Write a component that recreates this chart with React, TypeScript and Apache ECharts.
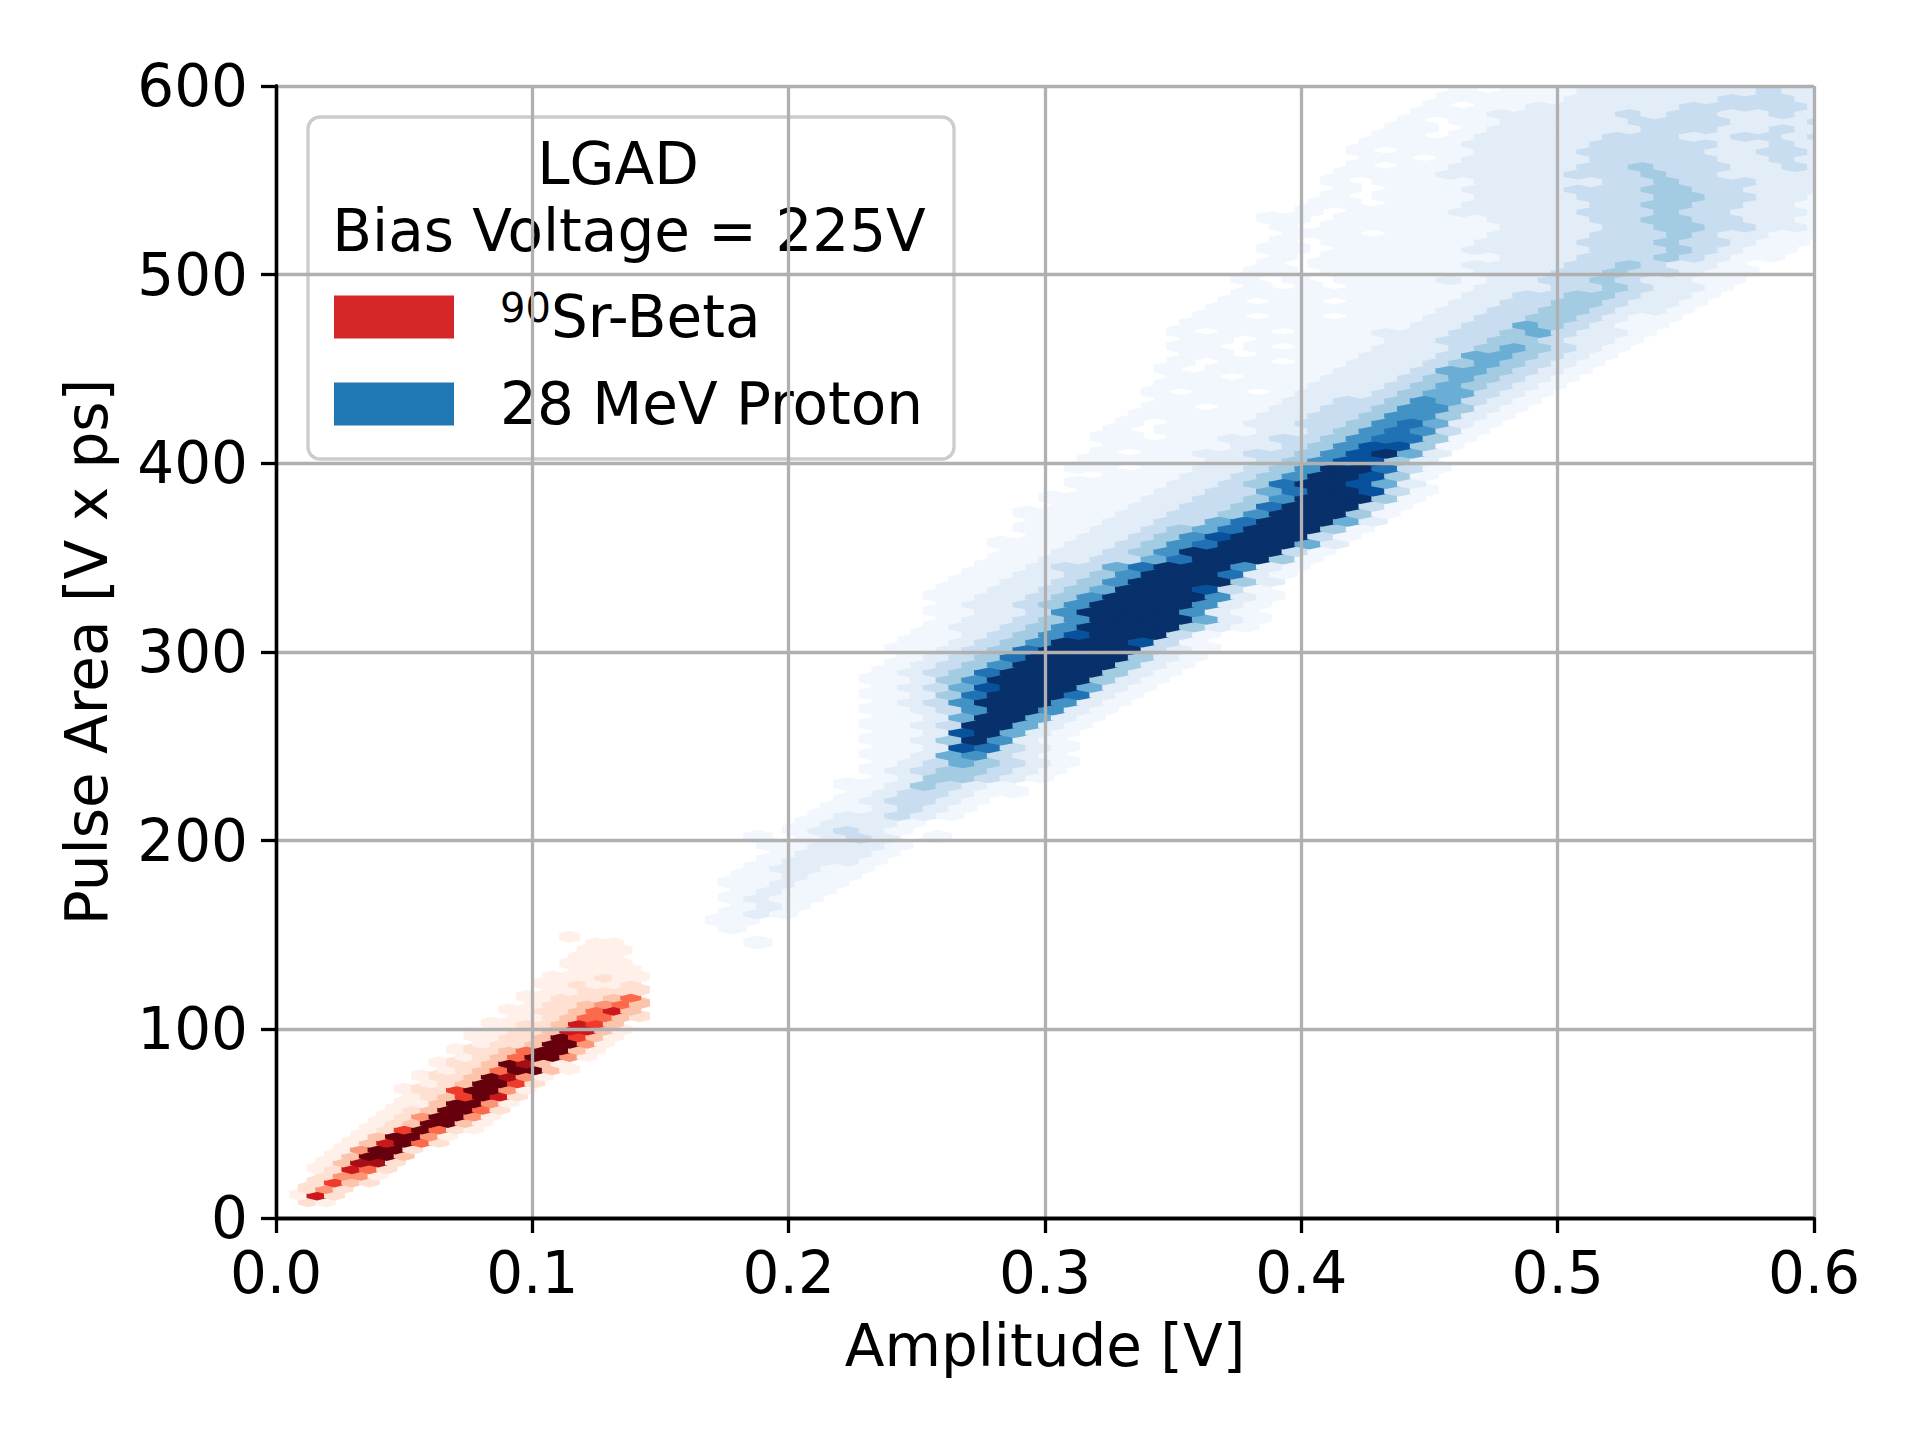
import React, { useEffect, useRef } from "react";
import * as echarts from "echarts";

// ---------- hexbin data ----------
// Each row: [row index, first half-column index, level digits].
// Digits are the bin levels (0 = empty, 1 = faintest ... 9 = darkest) of the
// hexagons of that row, which sit every second half-column.

// 90Sr-Beta bins (Reds)
const RED_X0 = 0.016;
const RED_HALF_DX = 0.0034;
const RED_Y0 = 12.5;
const RED_ROW_DY = 3.5;
const redRows: [number, number, string][] = [
  [-1, -1, "21"],
  [0, -2, "172"],
  [1, -1, "242"],
  [2, 0, "2632"],
  [3, 1, "2441"],
  [4, 0, "12752"],
  [5, 1, "13882"],
  [6, 2, "13993"],
  [7, 3, "14992"],
  [8, 4, "137952"],
  [9, 5, "139941"],
  [10, 6, "1269521"],
  [11, 7, "1239931"],
  [12, 8, "1249941"],
  [13, 9, "1239952"],
  [14, 10, "1139941"],
  [15, 11, "1236972"],
  [16, 10, "12269941"],
  [17, 13, "1239962"],
  [18, 12, "12239841"],
  [19, 15, "12359931"],
  [20, 14, "12239831"],
  [21, 17, "12359941"],
  [22, 16, "122359931"],
  [23, 19, "12239941"],
  [24, 18, "112239631"],
  [25, 21, "12237731"],
  [26, 20, "11223763"],
  [27, 23, "11235532"],
  [28, 22, "11223573"],
  [29, 25, "1223453"],
  [30, 24, "1122235"],
  [31, 27, "112222"],
  [32, 26, "112112"],
  [33, 27, "111211"],
  [34, 30, "1111"],
  [35, 29, "1111"],
  [36, 30, "111"],
  [37, 31, "111"],
  [38, 32, "11"],
  [39, 29, "1"],
];

// 28 MeV Proton bins (Blues)
const BLUE_X0 = 0.173;
const BLUE_HALF_DX = 0.005;
const BLUE_Y0 = 150;
const BLUE_ROW_DY = 4;
const blueRows: [number, number, string][] = [
  [-1, 3, "1"],
  [1, 1, "1"],
  [2, 0, "11"],
  [3, 1, "121"],
  [4, 2, "121"],
  [5, 1, "1211"],
  [6, 2, "1211"],
  [7, 1, "11211"],
  [8, 2, "11211"],
  [9, 3, "12211"],
  [10, 4, "12221"],
  [11, 5, "12221"],
  [12, 4, "112221"],
  [13, 3, "10123201"],
  [14, 6, "12321"],
  [15, 7, "12221"],
  [16, 8, "122321"],
  [17, 9, "112321"],
  [18, 10, "123321"],
  [19, 11, "1233211"],
  [20, 10, "1124321"],
  [21, 13, "1244321"],
  [22, 12, "12344321"],
  [23, 13, "12354321"],
  [24, 12, "11256321"],
  [25, 13, "11287321"],
  [26, 12, "11249621"],
  [27, 13, "11289521"],
  [28, 12, "112399521"],
  [29, 13, "112599521"],
  [30, 12, "1123699621"],
  [31, 13, "1236999621"],
  [32, 12, "11247999721"],
  [33, 13, "12358999521"],
  [34, 12, "112469999421"],
  [35, 13, "123479999421"],
  [36, 14, "123469999421"],
  [37, 15, "123479999421"],
  [38, 14, "1123479999321"],
  [39, 15, "112346999831"],
  [40, 16, "112346899931"],
  [41, 17, "1223469999421"],
  [42, 18, "1223469999521"],
  [43, 17, "1122369999621"],
  [44, 18, "1223469999621"],
  [45, 17, "11223469999621"],
  [46, 18, "1122345999831"],
  [47, 19, "1122346999942"],
  [48, 20, "1122346999721"],
  [49, 21, "1123357999621"],
  [50, 22, "1122335799941"],
  [51, 23, "1122346999931"],
  [52, 22, "11122346799952"],
  [53, 25, "1122346899931"],
  [54, 24, "11122345799941"],
  [55, 25, "11122335799952"],
  [56, 24, "111122334699941"],
  [57, 27, "11122334799931"],
  [58, 26, "111122334699941"],
  [59, 29, "11122335799831"],
  [60, 28, "11112234799852"],
  [61, 31, "1112234699841"],
  [62, 28, "110112234699731"],
  [63, 29, "11111223468842"],
  [64, 30, "10112233468952"],
  [65, 31, "11111223468841"],
  [66, 30, "110112233467741"],
  [67, 31, "101111223467631"],
  [68, 32, "101112233467521"],
  [69, 33, "111112233466421"],
  [70, 34, "110112233466421"],
  [71, 35, "111112233465321"],
  [72, 34, "1011012223455321"],
  [73, 35, "1111112223454321"],
  [74, 36, "1101112223454321"],
  [75, 35, "10111112223554321"],
  [76, 36, "10110112223454321"],
  [77, 37, "11011112223554321"],
  [78, 36, "110101112223454321"],
  [79, 37, "110111112233443221"],
  [80, 36, "1011011122233453221"],
  [81, 37, "1111111112233543211"],
  [82, 38, "1101101112233443211"],
  [83, 39, "1111111112233443221"],
  [84, 40, "1011011112233443221"],
  [85, 41, "1111111112233443221"],
  [86, 42, "1010111112223343221"],
  [87, 41, "10101111212233432211"],
  [88, 42, "11011111122233433211"],
  [89, 43, "1011111122223343221"],
  [90, 42, "010111111122233343211"],
  [91, 43, "110111112222233343211"],
  [92, 44, "101111112222333433211"],
  [93, 45, "111011112222333432211"],
  [94, 44, "1011111112222334433221"],
  [95, 43, "1101111112222334433221"],
  [96, 46, "101111222223334332221"],
  [97, 47, "11011122222334433221"],
  [98, 48, "10111122223334433221"],
  [99, 49, "1011122223334433222"],
  [100, 48, "10111122222334333222"],
  [101, 49, "1111222223334332222"],
  [102, 50, "1011222223343332232"],
  [103, 51, "110122222333332232"],
  [104, 50, "1011122223333322332"],
  [105, 51, "111122222333332232"],
  [106, 52, "110122222333223323"],
  [107, 53, "11012222223332232"],
  [108, 54, "10112222233332223"],
  [109, 55, "1112222232332232"],
  [110, 56, "1011222222333332"],
  [111, 57, "111112222223332"],
  [112, 58, "101112222222322"],
];

// ---------- axes / texts ----------
const xTickLabels = ["0.0", "0.1", "0.2", "0.3", "0.4", "0.5", "0.6"];
const yTickLabels = ["0", "100", "200", "300", "400", "500", "600"];
const xTitle = "Amplitude [V]";
const yTitle = "Pulse Area [V x ps]";
const legendTitle = ["LGAD", "Bias Voltage = 225V"];
const legendItems = [
  { sup: "90", label: "Sr-Beta", color: "#d62728" },
  { sup: "", label: "28 MeV Proton", color: "#1f77b4" },
];

// colour of each bin level 1..9 (Reds / Blues colour maps)
const RED_LEVELS = ["#fff0e9", "#fee1d3", "#fcc4ab", "#fc9676", "#fb6a4a", "#ef3b2c", "#cb181d", "#a50f15", "#67000d"];
const BLUE_LEVELS = ["#f1f7fd", "#e2edf8", "#c9ddf0", "#a3cce3", "#6aaed6", "#4292c6", "#2171b5", "#08519c", "#08306b"];

function buildCells(rows: [number, number, string][], x0: number, halfDx: number, y0: number, rowDy: number) {
  const out: number[][] = [];
  rows.forEach(([r, h0, s]) => {
    for (let i = 0; i < s.length; i++) {
      const lvl = Number(s[i]);
      if (lvl > 0) out.push([x0 + (h0 + 2 * i) * halfDx, y0 + r * rowDy, lvl]);
    }
  });
  return out;
}

function hexRenderer(cellW: number, cellH: number) {
  return (_params: any, api: any) => {
    const c = api.coord([api.value(0), api.value(1)]);
    const s = api.size([cellW, cellH]);
    const w = s[0] / 2;
    const h1 = s[1] / 6;
    const h2 = s[1] / 3;
    const color = api.visual("color");
    return {
      type: "polygon",
      shape: {
        points: [
          [c[0] + w, c[1] - h1],
          [c[0] + w, c[1] + h1],
          [c[0], c[1] + h2],
          [c[0] - w, c[1] + h1],
          [c[0] - w, c[1] - h1],
          [c[0], c[1] - h2],
        ],
      },
      style: { fill: color, stroke: color, lineWidth: 3.5, lineJoin: "miter" },
    };
  };
}

const FONT = "DejaVu Sans";
const FS = 58;

export default function App() {
  const ref = useRef<HTMLDivElement>(null);
  useEffect(() => {
    if (!ref.current) return;
    const chart = echarts.init(ref.current, undefined, { renderer: "svg" });
    const redData = buildCells(redRows, RED_X0, RED_HALF_DX, RED_Y0, RED_ROW_DY);
    const blueData = buildCells(blueRows, BLUE_X0, BLUE_HALF_DX, BLUE_Y0, BLUE_ROW_DY);

    const axisCommon = {
      axisLine: { show: true, onZero: false, lineStyle: { color: "#000", width: 3.3 } },
      axisTick: { show: true, inside: false, length: 15, lineStyle: { color: "#000", width: 3.3 } },
      splitLine: { show: true, lineStyle: { color: "#b0b0b0", width: 3.3 } },
      nameTextStyle: { fontFamily: FONT, fontSize: FS, color: "#000" },
    };

    const legendX = 308, legendY = 117, legendW = 646, legendH = 342;
    const patchX = 334, patchW = 120, patchH = 43;
    const itemTextX = 500;
    const itemYs = [317, 404];

    const levelPieces = (colors: string[]) => colors.map((c, i) => ({ value: i + 1, color: c }));

    chart.setOption({
      animation: false,
      backgroundColor: "#ffffff",
      grid: { left: 276, top: 86, width: 1538, height: 1132, containLabel: false },
      xAxis: [
        {
          type: "value",
          min: 0,
          max: 0.6,
          interval: 0.1,
          z: 5,
          name: xTitle,
          nameLocation: "middle",
          nameGap: 99,
          ...axisCommon,
          axisLabel: {
            show: true,
            margin: 26,
            fontFamily: FONT,
            fontSize: FS,
            color: "#000",
            showMinLabel: true,
            showMaxLabel: true,
            formatter: (v: number) => xTickLabels[Math.round(v / 0.1)],
          },
        },
        {
          type: "value",
          position: "top",
          min: 0,
          max: 0.6,
          z: 5,
          axisLine: { show: true, lineStyle: { color: "#000", width: 3.3 } },
          axisTick: { show: false },
          axisLabel: { show: false },
          splitLine: { show: false },
        },
      ],
      yAxis: [
        {
          type: "value",
          min: 0,
          max: 600,
          interval: 100,
          z: 5,
          name: yTitle,
          nameLocation: "middle",
          nameGap: 160,
          ...axisCommon,
          axisLabel: {
            show: true,
            margin: 28,
            fontFamily: FONT,
            fontSize: FS,
            color: "#000",
            showMinLabel: true,
            showMaxLabel: true,
            formatter: (v: number) => yTickLabels[Math.round(v / 100)],
          },
        },
        {
          type: "value",
          position: "right",
          min: 0,
          max: 600,
          z: 5,
          axisLine: { show: true, lineStyle: { color: "#000", width: 3.3 } },
          axisTick: { show: false },
          axisLabel: { show: false },
          splitLine: { show: false },
        },
      ],
      visualMap: [
        { type: "piecewise", show: false, seriesIndex: 0, dimension: 2, pieces: levelPieces(RED_LEVELS) },
        { type: "piecewise", show: false, seriesIndex: 1, dimension: 2, pieces: levelPieces(BLUE_LEVELS) },
      ],
      series: [
        {
          name: legendItems[0].sup + legendItems[0].label,
          type: "custom",
          xAxisIndex: 0,
          yAxisIndex: 0,
          z: 1,
          clip: true,
          progressive: 0,
          renderItem: hexRenderer(2 * RED_HALF_DX, 2 * RED_ROW_DY),
          encode: { x: 0, y: 1 },
          data: redData,
        },
        {
          name: legendItems[1].label,
          type: "custom",
          xAxisIndex: 0,
          yAxisIndex: 0,
          z: 1,
          clip: true,
          progressive: 0,
          renderItem: hexRenderer(2 * BLUE_HALF_DX, 2 * BLUE_ROW_DY),
          encode: { x: 0, y: 1 },
          data: blueData,
        },
      ],
      graphic: [
        {
          type: "group",
          z: 20,
          children: [
            {
              type: "rect",
              shape: { x: legendX, y: legendY, width: legendW, height: legendH, r: 12 },
              style: { fill: "rgba(255,255,255,0.8)", stroke: "#cccccc", lineWidth: 3.3 },
            },
            {
              type: "text",
              x: 618,
              y: 164,
              style: { text: legendTitle[0], fontFamily: FONT, fontSize: FS, fill: "#000", align: "center", verticalAlign: "middle" },
            },
            {
              type: "text",
              x: 629,
              y: 231,
              style: { text: legendTitle[1], fontFamily: FONT, fontSize: FS, fill: "#000", align: "center", verticalAlign: "middle" },
            },
            ...legendItems.flatMap((it, i) => [
              {
                type: "rect",
                shape: { x: patchX, y: itemYs[i] - patchH / 2, width: patchW, height: patchH },
                style: { fill: it.color },
              },
              {
                type: "text",
                x: itemTextX,
                y: itemYs[i],
                style: {
                  text: it.sup ? `{sup|${it.sup}}{n|${it.label}}` : it.label,
                  fontFamily: FONT,
                  fontSize: FS,
                  fill: "#000",
                  align: "left",
                  verticalAlign: "middle",
                  rich: {
                    sup: { fontFamily: FONT, fontSize: 40, fill: "#000", verticalAlign: "top" },
                    n: { fontFamily: FONT, fontSize: FS, fill: "#000" },
                  },
                },
              },
            ]),
          ],
        },
      ],
    });
    return () => chart.dispose();
  }, []);
  return (
    <div
      ref={ref}
      style={{ position: "absolute", left: 0, top: 0, width: 1920, height: 1440, background: "#fff" }}
    />
  );
}
